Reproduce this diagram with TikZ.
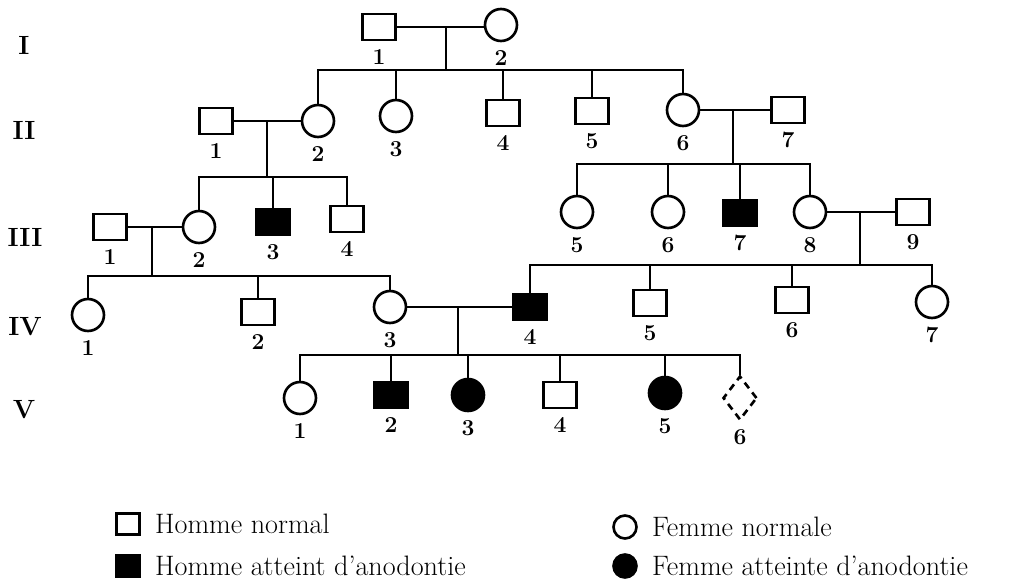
\documentclass[tikz,border=0pt]{standalone}
\usepackage{tikz}
\usetikzlibrary{shapes.geometric, positioning}

\begin{document}
\begin{tikzpicture}[
    x=0.02cm, y=-0.02cm, line width=1.5pt, label distance=0.2mm,
    male/.style={rectangle, draw, minimum width=6.6mm, minimum height=5.2mm, inner sep=0pt},
    female/.style={circle, draw, minimum size=6.4mm, inner sep=0pt},
    sick/.style={fill=black},
    unknown/.style={diamond, draw, dash pattern=on 4pt off 3pt, minimum width=6.8mm, minimum height=8.8mm, inner sep=0pt},
    gen/.style={font=\fontsize{15}{18}\selectfont\bfseries},
    legtext/.style={font=\fontsize{16}{19}\selectfont, inner sep=0pt},
    every label/.style={font=\fontsize{13}{15}\selectfont\bfseries}
  ]
  \useasboundingbox (0,0) rectangle (1032,588);

  \node[gen] (gI) at (24,45) {I};
  \node[gen] (gII) at (24,130) {II};
  \node[gen] (gIII) at (25,237) {III};
  \node[gen] (gIV) at (25,327) {IV};
  \node[gen] (gV) at (24,410) {V};

  % generation I
  \node[male, label=below:1] (I1) at (379,27) {};
  \node[female, label=below:2] (I2) at (501,25) {};

  % generation II
  \node[male, label=below:1] (II1) at (216,121) {};
  \node[female, label=below:2] (II2) at (318,121) {};
  \node[female, label=below:3] (II3) at (396,116) {};
  \node[male, label=below:4] (II4) at (503,113) {};
  \node[male, label=below:5] (II5) at (592,111) {};
  \node[female, label=below:6] (II6) at (683,110) {};
  \node[male, label=below:7] (II7) at (788,110) {};

  % generation III
  \node[male, label=below:1] (III1) at (110,227) {};
  \node[female, label=below:2] (III2) at (199,227) {};
  \node[male, sick, label=below:3] (III3) at (273,222) {};
  \node[male, label=below:4] (III4) at (347,219) {};
  \node[female, label=below:5] (III5) at (577,212) {};
  \node[female, label=below:6] (III6) at (668,212) {};
  \node[male, sick, label=below:7] (III7) at (740,213) {};
  \node[female, label=below:8] (III8) at (810,212) {};
  \node[male, label=below:9] (III9) at (913,212) {};

  % generation IV
  \node[female, label=below:1] (IV1) at (88,315) {};
  \node[male, label=below:2] (IV2) at (258,312) {};
  \node[female, label=below:3] (IV3) at (390,307) {};
  \node[male, sick, label=below:4] (IV4) at (530,307) {};
  \node[male, label=below:5] (IV5) at (650,303) {};
  \node[male, label=below:6] (IV6) at (792,300) {};
  \node[female, label=below:7] (IV7) at (932,302) {};

  % generation V
  \node[female, label=below:1] (V1) at (300,398) {};
  \node[male, sick, label=below:2] (V2) at (391,395) {};
  \node[female, sick, label=below:3] (V3) at (468,395) {};
  \node[male, label=below:4] (V4) at (560,395) {};
  \node[female, sick, label=below:5] (V5) at (665,393) {};
  \node[unknown, label=below:6] (V6) at (740,398) {};

  % couples and sibships
  \coordinate (m1) at (446,27);  \coordinate (s1) at (446,70);
  \coordinate (m2) at (267,121); \coordinate (s2) at (267,177);
  \coordinate (m3) at (733,110); \coordinate (s3) at (733,164);
  \coordinate (m4) at (152,227); \coordinate (s4) at (152,276);
  \coordinate (m5) at (860,212); \coordinate (s5) at (860,265);
  \coordinate (m6) at (458,307); \coordinate (s6) at (458,355);

  \draw (I1) -- (I1 -| I2.west);
  \draw (m1) -- (s1);
  \draw (II2.north) |- (s1) -| (II6.north);
  \foreach \n in {II3,II4,II5} \draw (\n.north) -- (\n.north |- s1);

  \draw (II1) -- (II2);
  \draw (m2) -- (s2);
  \draw (III2.north) |- (s2) -| (III4.north);
  \draw (III3.north) -- (III3.north |- s2);

  \draw (II6) -- (II7);
  \draw (m3) -- (s3);
  \draw (III5.north) |- (s3) -| (III8.north);
  \foreach \n in {III6,III7} \draw (\n.north) -- (\n.north |- s3);

  \draw (III1) -- (III2);
  \draw (m4) -- (s4);
  \draw (IV1.north) |- (s4) -| (IV3.north);
  \draw (IV2.north) -- (IV2.north |- s4);

  \draw (III8) -- (III9);
  \draw (m5) -- (s5);
  \draw (IV4.north) |- (s5) -| (IV7.north);
  \foreach \n in {IV5,IV6} \draw (\n.north) -- (\n.north |- s5);

  \draw (IV3) -- (IV4);
  \draw (m6) -- (s6);
  \draw (V1.north) |- (s6) -| (V6.north);
  \foreach \n in {V2,V3,V4,V5} \draw (\n.north) -- (\n.north |- s6);

  % legend
  \node[male, minimum width=4.6mm, minimum height=4.2mm] (lgM) at (128,524) {};
  \node[male, sick, minimum width=4.6mm, minimum height=4.2mm] (lgMs) at (128,566) {};
  \node[female, minimum size=4.6mm] (lgF) at (625,527) {};
  \node[female, sick, minimum size=4.6mm] (lgFs) at (625,566) {};
  \node[legtext, right=2.6mm of lgM] (tM) {Homme normal};
  \node[legtext, right=2.6mm of lgMs] (tMs) {Homme atteint d’anodontie};
  \node[legtext, right=2.6mm of lgF] (tF) {Femme normale};
  \node[legtext, right=2.6mm of lgFs] (tFs) {Femme atteinte d’anodontie};
\end{tikzpicture}
\end{document}
